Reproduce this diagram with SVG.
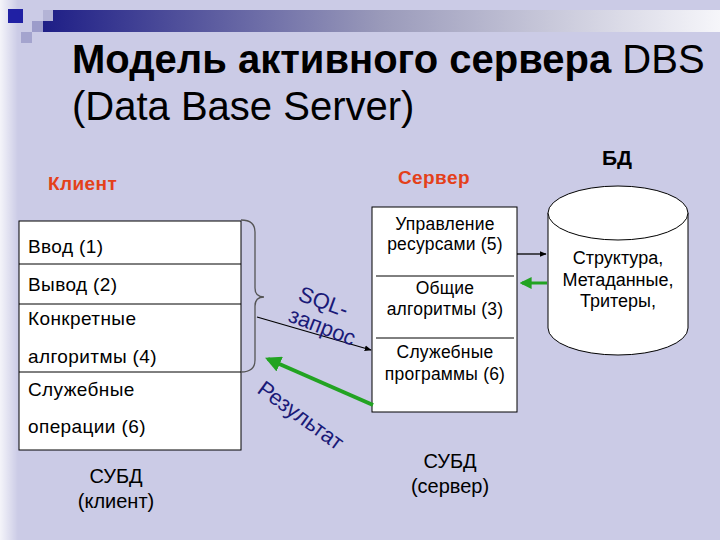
<svg xmlns="http://www.w3.org/2000/svg" width="720" height="540" viewBox="0 0 720 540">
<defs>
<linearGradient id="bar" x1="0" y1="0" x2="1" y2="0">
<stop offset="0" stop-color="#1E1E86"/>
<stop offset="0.5" stop-color="#9A9ABA"/>
<stop offset="1" stop-color="#F6F6FA"/>
</linearGradient>
<linearGradient id="strip" x1="0" y1="0" x2="1" y2="0">
<stop offset="0" stop-color="#FFFFFF" stop-opacity="0.8"/>
<stop offset="1" stop-color="#FFFFFF" stop-opacity="0"/>
</linearGradient>
<marker id="ab" viewBox="0 0 10 10" refX="9" refY="5" markerWidth="7" markerHeight="7" orient="auto" markerUnits="userSpaceOnUse">
<path d="M0,1 L10,5 L0,9 z" fill="#000"/>
</marker>
<marker id="ag" viewBox="0 0 10 10" refX="8" refY="5" markerWidth="4" markerHeight="4" orient="auto">
<path d="M0,0 L10,5 L0,10 z" fill="#22A322"/>
</marker>
<style>
.t{font-family:"Liberation Sans",Arial,sans-serif;fill:#000}
.box{fill:#fff;stroke:#000;stroke-width:1}
.sep{stroke:#000;stroke-width:1}
.cl{font-size:19px;letter-spacing:0.4px}
.sv{font-size:17.5px;text-anchor:middle;letter-spacing:0.2px}
.db{font-size:18px;text-anchor:middle}
.bt{font-size:20px;text-anchor:middle}
.lbl{font-size:19px;font-weight:bold;fill:#E4401A;letter-spacing:0.4px}
.blue{font-family:"Liberation Sans",Arial,sans-serif;font-size:22px;fill:#1A1A78}
</style>
</defs>
<rect x="0" y="0" width="720" height="540" fill="#CBCBE6"/>
<rect x="0" y="0" width="18" height="540" fill="url(#strip)"/>
<g id="decor">
<rect x="43" y="10" width="677" height="22" fill="url(#bar)"/>
<rect x="43" y="10" width="10" height="11" fill="#B4B4D6"/>
<rect x="32" y="21" width="11" height="11" fill="#9C9CCA"/>
<rect x="21" y="32" width="11" height="11" fill="#A4A4CE"/>
<rect x="8" y="9" width="15" height="14" fill="#2020A4"/>
</g>
<g id="title">
<text class="t" x="72" y="73" font-size="40"><tspan font-weight="bold">Модель активного сервера</tspan> DBS</text>
<text class="t" x="72" y="120" font-size="40">(Data Base Server)</text>
</g>
<text class="t lbl" x="48" y="190">Клиент</text>
<text class="t lbl" x="398" y="184">Сервер</text>
<text class="t" x="602" y="165" font-size="21" font-weight="bold">БД</text>
<g id="client">
<rect class="box" x="19" y="221" width="222" height="229"/>
<line class="sep" x1="19" y1="264" x2="241" y2="264"/>
<line class="sep" x1="19" y1="304" x2="241" y2="304"/>
<line class="sep" x1="19" y1="372" x2="241" y2="372"/>
<text class="t cl" x="28" y="253">Ввод (1)</text>
<text class="t cl" x="28" y="291">Вывод (2)</text>
<text class="t cl" x="28" y="325">Конкретные</text>
<text class="t cl" x="28" y="363">алгоритмы (4)</text>
<text class="t cl" x="28" y="396">Служебные</text>
<text class="t cl" x="28" y="433">операции (6)</text>
</g>
<g id="server">
<rect class="box" x="372" y="207" width="145" height="205"/>
<line class="sep" x1="376" y1="276" x2="514" y2="276"/>
<line class="sep" x1="376" y1="338" x2="514" y2="338"/>
<text class="t sv" x="445" y="230">Управление</text>
<text class="t sv" x="445" y="250">ресурсами (5)</text>
<text class="t sv" x="445" y="294">Общие</text>
<text class="t sv" x="445" y="315">алгоритмы (3)</text>
<text class="t sv" x="445" y="358">Служебные</text>
<text class="t sv" x="445" y="380">программы (6)</text>
</g>
<g id="db">
<path d="M548,213 L548,328 A70,27 0 0 0 688,328 L688,213" fill="#fff" stroke="#000" stroke-width="1"/>
<ellipse cx="618" cy="213" rx="70" ry="27" fill="#fff" stroke="#000" stroke-width="1"/>
<text class="t db" x="618" y="264">Структура,</text>
<text class="t db" x="618" y="286">Метаданные,</text>
<text class="t db" x="618" y="307">Тритеры,</text>
</g>
<g id="brace">
<path d="M241,220 Q255,220 255,232 L255,288 Q255,297 264,297 Q255,297 255,306 L255,360 Q255,372 241,372" fill="none" stroke="#555" stroke-width="1.3"/>
</g>
<g id="connectors">
<line x1="257" y1="317" x2="371" y2="350" stroke="#000" stroke-width="1.3" marker-end="url(#ab)"/>
<line x1="373" y1="405" x2="268" y2="359" stroke="#22A322" stroke-width="4" marker-end="url(#ag)"/>
<line x1="517" y1="254" x2="546" y2="254" stroke="#000" stroke-width="1.3" marker-end="url(#ab)"/>
<line x1="547" y1="283" x2="522" y2="283" stroke="#22A322" stroke-width="3" marker-end="url(#ag)"/>
</g>
<g id="labels">
<text class="blue" transform="translate(297,300) rotate(20)">SQL-</text>
<text class="blue" transform="translate(287,321) rotate(21)" font-size="20">запрос</text>
<text class="blue" transform="translate(256,392) rotate(36)" font-size="18.5">Результат</text>
</g>
<g id="bottom">
<text class="t bt" x="116" y="483">СУБД</text>
<text class="t bt" x="116" y="508">(клиент)</text>
<text class="t bt" x="450" y="468">СУБД</text>
<text class="t bt" x="450" y="493">(сервер)</text>
</g>
</svg>
